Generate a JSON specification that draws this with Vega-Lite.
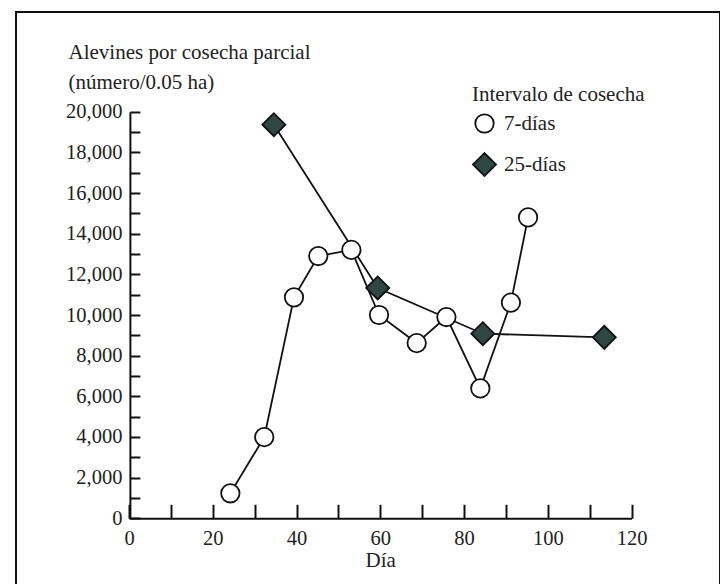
{
  "$schema": "https://vega.github.io/schema/vega-lite/v6.json",
  "autosize": {"type": "none"},
  "padding": {"left": 16, "top": 12, "right": 0, "bottom": 0},
  "width": 704,
  "height": 590,
  "background": "white",
  "config": {
    "view": {"stroke": "#111", "strokeWidth": 2, "fill": "white"},
    "font": "'Liberation Serif', 'DejaVu Serif', serif",
    "legend": {
      "orient": "none",
      "legendX": 456,
      "legendY": 72,
      "padding": 0,
      "titleFont": "'Liberation Serif', 'DejaVu Serif', serif",
      "titleFontSize": 21,
      "titleFontWeight": "normal",
      "titleColor": "#222",
      "titlePadding": 8,
      "titleLimit": 400,
      "labelFont": "'Liberation Serif', 'DejaVu Serif', serif",
      "labelFontSize": 21,
      "labelColor": "#222",
      "labelOffset": 7,
      "rowPadding": 12,
      "symbolStrokeWidth": 1.8
    }
  },
  "data": {
    "values": [
      {"dia": 24.2, "alevines": 1230, "serie": "7-días"},
      {"dia": 32.3, "alevines": 3990, "serie": "7-días"},
      {"dia": 39.4, "alevines": 10870, "serie": "7-días"},
      {"dia": 45.2, "alevines": 12900, "serie": "7-días"},
      {"dia": 53.1, "alevines": 13200, "serie": "7-días"},
      {"dia": 59.7, "alevines": 10000, "serie": "7-días"},
      {"dia": 68.7, "alevines": 8620, "serie": "7-días"},
      {"dia": 75.8, "alevines": 9900, "serie": "7-días"},
      {"dia": 83.9, "alevines": 6390, "serie": "7-días"},
      {"dia": 91.2, "alevines": 10610, "serie": "7-días"},
      {"dia": 95.3, "alevines": 14800, "serie": "7-días"},
      {"dia": 34.6, "alevines": 19360, "serie": "25-días"},
      {"dia": 59.4, "alevines": 11330, "serie": "25-días"},
      {"dia": 84.5, "alevines": 9080, "serie": "25-días"},
      {"dia": 113.5, "alevines": 8900, "serie": "25-días"}
    ]
  },
  "encoding": {
    "x": {
      "field": "dia",
      "type": "quantitative",
      "scale": {"domain": [0, 120], "range": [113, 615.5], "nice": false, "zero": false},
      "axis": {
        "values": [0, 10, 20, 30, 40, 50, 60, 70, 80, 90, 100, 110, 120],
        "labelExpr": "datum.value % 20 == 0 ? datum.label : ''",
        "offset": -83.7,
        "grid": false,
        "tickSize": -14,
        "tickWidth": 2,
        "tickColor": "#111",
        "domainWidth": 2,
        "domainColor": "#111",
        "labelPadding": 24,
        "labelFont": "'Liberation Serif', 'DejaVu Serif', serif",
        "labelFontSize": 20.5,
        "labelColor": "#222",
        "labelFlush": false,
        "labelOverlap": false,
        "title": "Día",
        "titleFont": "'Liberation Serif', 'DejaVu Serif', serif",
        "titleFontSize": 21,
        "titleFontWeight": "normal",
        "titleColor": "#222",
        "titlePadding": 1
      }
    },
    "y": {
      "field": "alevines",
      "type": "quantitative",
      "scale": {"domain": [0, 20000], "range": [506.3, 99.7], "nice": false, "zero": false},
      "axis": {
        "values": [0, 1000, 2000, 3000, 4000, 5000, 6000, 7000, 8000, 9000, 10000, 11000, 12000, 13000, 14000, 15000, 16000, 17000, 18000, 19000, 20000],
        "labelExpr": "datum.value % 2000 == 0 ? format(datum.value, ',') : ''",
        "offset": -113.9,
        "grid": false,
        "tickSize": -10,
        "tickWidth": 2,
        "tickColor": "#111",
        "domainWidth": 2,
        "domainColor": "#111",
        "labelPadding": 18,
        "labelFont": "'Liberation Serif', 'DejaVu Serif', serif",
        "labelFontSize": 20.5,
        "labelColor": "#222",
        "labelFlush": false,
        "labelOverlap": false,
        "title": ["Alevines por cosecha parcial", "(número/0.05 ha)"],
        "titleAngle": 0,
        "titleAlign": "left",
        "titleBaseline": "top",
        "titleX": -61.9,
        "titleY": 29.5,
        "titleLineHeight": 30,
        "titleFont": "'Liberation Serif', 'DejaVu Serif', serif",
        "titleFontSize": 21,
        "titleFontWeight": "normal",
        "titleColor": "#222"
      }
    }
  },
  "layer": [
    {
      "mark": {"type": "line", "stroke": "#111", "strokeWidth": 1.8},
      "encoding": {"detail": {"field": "serie", "type": "nominal"}}
    },
    {
      "mark": {"type": "point", "filled": true, "strokeWidth": 1.8, "opacity": 1},
      "encoding": {
        "shape": {
          "field": "serie", "type": "nominal",
          "scale": {"domain": ["7-días", "25-días"], "range": ["circle", "diamond"]},
          "title": "Intervalo de cosecha"
        },
        "fill": {
          "field": "serie", "type": "nominal",
          "scale": {"domain": ["7-días", "25-días"], "range": ["white", "#2f4642"]},
          "title": "Intervalo de cosecha"
        },
        "stroke": {
          "field": "serie", "type": "nominal",
          "scale": {"domain": ["7-días", "25-días"], "range": ["#111111", "#111111"]},
          "title": "Intervalo de cosecha"
        },
        "size": {
          "field": "serie", "type": "nominal",
          "scale": {"domain": ["7-días", "25-días"], "range": [340, 530]},
          "title": "Intervalo de cosecha"
        }
      }
    }
  ]
}
